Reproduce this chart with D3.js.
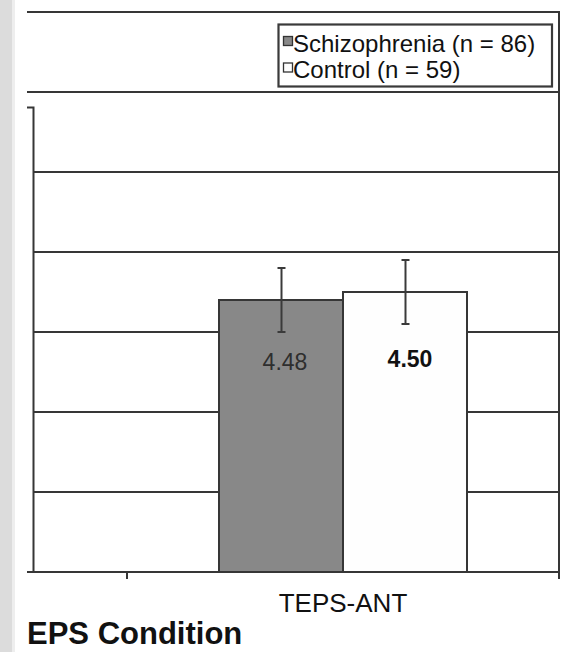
<!DOCTYPE html>
<html>
<head>
<meta charset="utf-8">
<script src="https://cdn.jsdelivr.net/npm/d3@7"></script>
<style>
  html, body { margin: 0; padding: 0; background: #fff; }
  svg { display: block; font-family: "Liberation Sans", Arial, Helvetica, sans-serif; }
</style>
</head>
<body>
<svg id="chart" width="568" height="652"></svg>
<script>
// ---- data ----
const categories = ["TEPS-ANT"];
const seriesNames = ["Schizophrenia (n = 86)", "Control (n = 59)"];
const seriesKeys = ["Schizophrenia", "Control"];
const schizophreniaMeans = [4.48];
const controlMeans = [4.50];
const schizophreniaErrors = [0.08];
const controlErrors = [0.08];
const valueLabels = ["4.48", "4.50"];
const yTicks = [3.8, 4.0, 4.2, 4.4, 4.6, 4.8, 5.0, 5.2];
const title = "EPS Condition";

// ---- layout ----
const svg = d3.select("#chart");
const W = 568, H = 652;
const plotLeft = 27, axisX = 33.5, plotRight = 559, plotTop = 12, plotBottom = 572;

// gray strip at the left
svg.append("rect").attr("x", 0).attr("y", 0).attr("width", 12).attr("height", H).attr("fill", "#dcdcdc");
svg.append("rect").attr("x", 12).attr("y", 0).attr("width", 3).attr("height", H).attr("fill", "#eeeeee");

const y = d3.scaleLinear().domain([3.8, 5.2]).range([plotBottom, plotTop]);
const x = d3.scaleBand().domain(categories).range([127, plotRight]).paddingInner(0).paddingOuter(0);
const barW = 124;
const pOuter = (x.bandwidth() / barW - 2) / 2;
const x1 = d3.scaleBand().domain(seriesKeys).range([0, x.bandwidth()]).paddingInner(0).paddingOuter(pOuter);

const lineColor = "#363636";
const sw = 2;

// gridlines
svg.append("g").selectAll("line").data(yTicks.filter(t => t > 3.8)).join("line")
  .attr("x1", d => d >= 5.0 ? plotLeft : axisX)
  .attr("x2", plotRight)
  .attr("y1", d => y(d)).attr("y2", d => y(d))
  .attr("stroke", lineColor).attr("stroke-width", sw);

// right frame line
svg.append("line").attr("x1", plotRight).attr("x2", plotRight)
  .attr("y1", plotTop - 1).attr("y2", plotBottom + 7)
  .attr("stroke", lineColor).attr("stroke-width", sw);

// left axis (cropped)
svg.append("path").attr("d", `M${plotLeft},107.5 H${axisX} V${plotBottom}`)
  .attr("fill", "none").attr("stroke", lineColor).attr("stroke-width", sw);

// bars
const rows = categories.map((c, i) => ({
  cat: c,
  values: [
    { key: "Schizophrenia", v: schizophreniaMeans[i], e: schizophreniaErrors[i], label: valueLabels[0] },
    { key: "Control", v: controlMeans[i], e: controlErrors[i], label: valueLabels[1] }
  ]
}));
const fills = { Schizophrenia: "#888888", Control: "#fefefe" };

const g = svg.append("g").selectAll("g").data(rows).join("g")
  .attr("transform", d => `translate(${x(d.cat)},0)`);

g.selectAll("rect").data(d => d.values).join("rect")
  .attr("x", d => x1(d.key)).attr("width", x1.bandwidth())
  .attr("y", d => y(d.v)).attr("height", d => y(3.8) - y(d.v))
  .attr("fill", d => fills[d.key]).attr("stroke", lineColor).attr("stroke-width", sw);

// error bars
const eb = g.selectAll("g.eb").data(d => d.values).join("g").attr("class", "eb");
eb.append("line")
  .attr("x1", d => x1(d.key) + x1.bandwidth() / 2 + 0.5).attr("x2", d => x1(d.key) + x1.bandwidth() / 2 + 0.5)
  .attr("y1", d => y(d.v + d.e)).attr("y2", d => y(d.v - d.e))
  .attr("stroke", "#3a3a3a").attr("stroke-width", 2);
eb.selectAll("line.cap").data(d => [[d, d.v + d.e], [d, d.v - d.e]]).join("line").attr("class", "cap")
  .attr("x1", d => x1(d[0].key) + x1.bandwidth() / 2 + 0.5 - 4)
  .attr("x2", d => x1(d[0].key) + x1.bandwidth() / 2 + 0.5 + 4)
  .attr("y1", d => y(d[1])).attr("y2", d => y(d[1]))
  .attr("stroke", "#3a3a3a").attr("stroke-width", 2);

// value labels
g.selectAll("text.val").data(d => d.values).join("text").attr("class", "val")
  .attr("x", (d, i) => x1(d.key) + x1.bandwidth() / 2 + (i === 0 ? 4 : 5))
  .attr("y", (d, i) => i === 0 ? 369.5 : 366.5)
  .attr("text-anchor", "middle")
  .attr("font-size", 23)
  .attr("font-weight", (d, i) => i === 0 ? "normal" : "bold")
  .attr("fill", (d, i) => i === 0 ? "#2e2e2e" : "#111")
  .text(d => d.label);

// bottom axis
svg.append("line").attr("x1", plotLeft).attr("x2", plotRight + 1)
  .attr("y1", plotBottom).attr("y2", plotBottom)
  .attr("stroke", lineColor).attr("stroke-width", sw);
const tickXs = [x(categories[0]), x(categories[0]) + x.bandwidth()];
svg.append("g").selectAll("line").data(tickXs).join("line")
  .attr("x1", d => d).attr("x2", d => d)
  .attr("y1", plotBottom).attr("y2", plotBottom + 7)
  .attr("stroke", lineColor).attr("stroke-width", sw);

svg.append("g").selectAll("text").data(categories).join("text")
  .attr("x", d => x(d) + x.bandwidth() / 2)
  .attr("y", 612)
  .attr("text-anchor", "middle")
  .attr("font-size", 26)
  .attr("fill", "#111")
  .text(d => d);

// legend
const leg = svg.append("g");
leg.append("rect").attr("x", 278.5).attr("y", 24.5).attr("width", 273.5).attr("height", 62)
  .attr("fill", "#fff").attr("stroke", "#3a3a3a").attr("stroke-width", 2.2);
const legItems = leg.selectAll("g").data(seriesKeys).join("g")
  .attr("transform", (d, i) => `translate(283, ${36 + i * 26.5})`);
legItems.append("rect").attr("x", 0.5).attr("y", 0.5).attr("width", 9).attr("height", 9)
  .attr("fill", d => fills[d]).attr("stroke", "#333").attr("stroke-width", 1.3);
legItems.append("text").attr("x", 10).attr("y", 15.5)
  .attr("font-size", 24).attr("fill", "#111")
  .text((d, i) => seriesNames[i]);

// title
svg.append("text").attr("x", 27).attr("y", 644)
  .attr("font-size", 31).attr("font-weight", "bold").attr("fill", "#111")
  .text(title);
</script>
</body>
</html>
